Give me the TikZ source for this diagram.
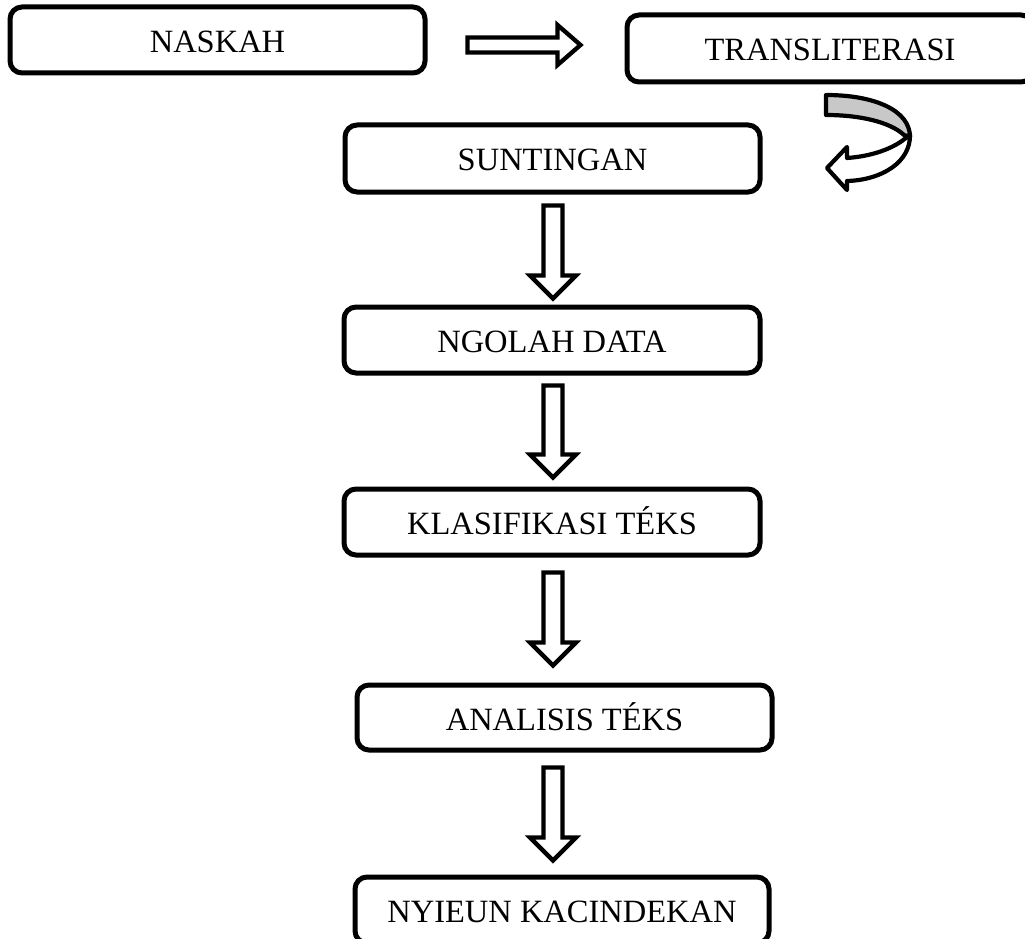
\documentclass[tikz,border=0pt]{standalone}
\usepackage{fontspec}
\setmainfont{Liberation Serif}
\usetikzlibrary{calc}
\definecolor{bandgray}{HTML}{C8C8C8}
\tikzset{
  stepbox/.style={draw=black, line width=5pt, rounded corners=12pt, fill=white,
    font=\fontsize{32.5}{38}\selectfont, text height=25pt, text depth=0pt,
    inner sep=0pt, anchor=center},
  blk/.style={draw=black, line width=4.3pt, fill=white, line join=miter},
  curv/.style={draw=black, line width=4.2pt, line join=round},
}
\newcommand\vblock[4]{%
  \coordinate (vbt) at ($(axis |- #1.south)+(0,#3)$);
  \coordinate (vbp) at ($(axis |- #2.north)+(0,-#4)$);
  \draw[blk] ($(vbt)+(-9.5,0)$) -- ($(vbt)+(9.5,0)$) -- ($(vbp)+(9.5,-23)$)
    -- ($(vbp)+(23,-23)$) -- (vbp) -- ($(vbp)+(-23,-23)$)
    -- ($(vbp)+(-9.5,-23)$) -- cycle;}
\begin{document}
\begin{tikzpicture}[x=1pt,y=-1pt]
\useasboundingbox (0,0) rectangle (1025,939);
\clip (0,0) rectangle (1025,939);
\coordinate (axis) at (553,0);
\node[stepbox, minimum width=415, minimum height=66] (naskah) at (217.5,40) {NASKAH};
\node[stepbox, minimum width=406, minimum height=67] (trans) at (830,48.5) {TRANSLITERASI};
\node[stepbox, minimum width=415, minimum height=67] (sunt) at (552.5,158.5) {SUNTINGAN};
\node[stepbox, minimum width=416, minimum height=66] (ngolah) at (552,340) {NGOLAH DATA};
\node[stepbox, minimum width=416, minimum height=66] (klas) at (552,522) {KLASIFIKASI TÉKS};
\node[stepbox, minimum width=415, minimum height=65] (anal) at (564.5,717.5) {ANALISIS TÉKS};
\node[stepbox, minimum width=414, minimum height=66] (nyieun) at (562,910) {NYIEUN KACINDEKAN};
% right block arrow
\coordinate (hs) at ($(naskah.east)+(40,5)$);
\coordinate (ht) at ($(trans.west |- hs)+(-44,0)$);
\draw[blk] ($(hs)+(0,-7.5)$) -- ($(ht)+(-23,-7.5)$) -- ($(ht)+(-23,-20)$) -- (ht)
  -- ($(ht)+(-23,20)$) -- ($(ht)+(-23,7.5)$) -- ($(hs)+(0,7.5)$) -- cycle;
% curved U-turn arrow
\draw[curv, fill=bandgray] (826,95) .. controls (874,95) and (910,110) .. (910,137)
  -- (904,135) .. controls (890,122) and (860,115) .. (826,115) -- cycle;
\draw[curv, fill=white] (910,134) .. controls (911,162) and (882,180) .. (847,181)
  -- (847,190) -- (827,168) -- (847,147) -- (847,158)
  .. controls (876,156) and (899,146) .. (910,134) -- cycle;
% down block arrows
\vblock{sunt}{ngolah}{11}{6}
\vblock{ngolah}{klas}{10}{9}
\vblock{klas}{anal}{15}{17}
\vblock{anal}{nyieun}{15}{14}
\end{tikzpicture}
\end{document}
